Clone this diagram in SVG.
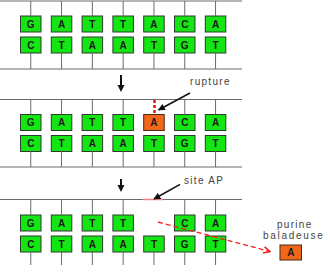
<svg xmlns="http://www.w3.org/2000/svg" width="330" height="272" viewBox="0 0 330 272">
<style>
.b{fill:#14e614;stroke:#2d3b2d;stroke-width:1}
.o{fill:#f0661a;stroke:#4a2a10;stroke-width:1}
.t{font-family:"Liberation Sans",Arial,sans-serif;font-weight:bold;font-size:10px;fill:#1a1a1a;text-anchor:middle}
.l{font-family:"Liberation Sans",Arial,sans-serif;font-size:10px;fill:#444;letter-spacing:1.3px}
.s{stroke:#6b6b6b;stroke-width:1;fill:none}
.k{stroke:#111;stroke-width:1.5;fill:none}
</style>
<defs>
<marker id="ah" viewBox="0 0 10 10" refX="9" refY="5" orient="auto" markerUnits="userSpaceOnUse" markerWidth="8" markerHeight="7"><path d="M0,0 L10,5 L0,10 z" fill="#111"/></marker>
<marker id="rh" viewBox="0 0 10 10" refX="9" refY="5" orient="auto" markerUnits="userSpaceOnUse" markerWidth="9" markerHeight="8"><path d="M1,1 L9,5 L1,9" fill="none" stroke="#ee2020" stroke-width="2"/></marker>
</defs>
<g id="p1">
<g id="p1t1"><rect class="b" x="20.5" y="16" width="20.5" height="16"/><text class="t" x="30.75" y="27.5">G</text></g>
<g id="p1t2"><rect class="b" x="51.3" y="16" width="20.5" height="16"/><text class="t" x="61.55" y="27.5">A</text></g>
<g id="p1t3"><rect class="b" x="82.1" y="16" width="20.5" height="16"/><text class="t" x="92.35" y="27.5">T</text></g>
<g id="p1t4"><rect class="b" x="112.9" y="16" width="20.5" height="16"/><text class="t" x="123.15" y="27.5">T</text></g>
<g id="p1t5"><rect class="b" x="143.7" y="16" width="20.5" height="16"/><text class="t" x="153.95" y="27.5">A</text></g>
<g id="p1t6"><rect class="b" x="174.5" y="16" width="20.5" height="16"/><text class="t" x="184.75" y="27.5">C</text></g>
<g id="p1t7"><rect class="b" x="205.3" y="16" width="20.5" height="16"/><text class="t" x="215.55" y="27.5">A</text></g>
<g id="p1b1"><rect class="b" x="20.5" y="37" width="20.5" height="16"/><text class="t" x="30.75" y="48.5">C</text></g>
<g id="p1b2"><rect class="b" x="51.3" y="37" width="20.5" height="16"/><text class="t" x="61.55" y="48.5">T</text></g>
<g id="p1b3"><rect class="b" x="82.1" y="37" width="20.5" height="16"/><text class="t" x="92.35" y="48.5">A</text></g>
<g id="p1b4"><rect class="b" x="112.9" y="37" width="20.5" height="16"/><text class="t" x="123.15" y="48.5">A</text></g>
<g id="p1b5"><rect class="b" x="143.7" y="37" width="20.5" height="16"/><text class="t" x="153.95" y="48.5">T</text></g>
<g id="p1b6"><rect class="b" x="174.5" y="37" width="20.5" height="16"/><text class="t" x="184.75" y="48.5">G</text></g>
<g id="p1b7"><rect class="b" x="205.3" y="37" width="20.5" height="16"/><text class="t" x="215.55" y="48.5">T</text></g>
</g>
<g id="p2">
<g id="p2t1"><rect class="b" x="20.5" y="114.5" width="20.5" height="16"/><text class="t" x="30.75" y="126">G</text></g>
<g id="p2t2"><rect class="b" x="51.3" y="114.5" width="20.5" height="16"/><text class="t" x="61.55" y="126">A</text></g>
<g id="p2t3"><rect class="b" x="82.1" y="114.5" width="20.5" height="16"/><text class="t" x="92.35" y="126">T</text></g>
<g id="p2t4"><rect class="b" x="112.9" y="114.5" width="20.5" height="16"/><text class="t" x="123.15" y="126">T</text></g>
<g id="p2t5"><rect class="o" x="143.7" y="114.5" width="20.5" height="16"/><text class="t" x="153.95" y="126">A</text></g>
<g id="p2t6"><rect class="b" x="174.5" y="114.5" width="20.5" height="16"/><text class="t" x="184.75" y="126">C</text></g>
<g id="p2t7"><rect class="b" x="205.3" y="114.5" width="20.5" height="16"/><text class="t" x="215.55" y="126">A</text></g>
<g id="p2b1"><rect class="b" x="20.5" y="135.5" width="20.5" height="16"/><text class="t" x="30.75" y="147">C</text></g>
<g id="p2b2"><rect class="b" x="51.3" y="135.5" width="20.5" height="16"/><text class="t" x="61.55" y="147">T</text></g>
<g id="p2b3"><rect class="b" x="82.1" y="135.5" width="20.5" height="16"/><text class="t" x="92.35" y="147">A</text></g>
<g id="p2b4"><rect class="b" x="112.9" y="135.5" width="20.5" height="16"/><text class="t" x="123.15" y="147">A</text></g>
<g id="p2b5"><rect class="b" x="143.7" y="135.5" width="20.5" height="16"/><text class="t" x="153.95" y="147">T</text></g>
<g id="p2b6"><rect class="b" x="174.5" y="135.5" width="20.5" height="16"/><text class="t" x="184.75" y="147">G</text></g>
<g id="p2b7"><rect class="b" x="205.3" y="135.5" width="20.5" height="16"/><text class="t" x="215.55" y="147">T</text></g>
</g>
<g id="p3">
<g id="p3t1"><rect class="b" x="20.5" y="215" width="20.5" height="16"/><text class="t" x="30.75" y="226.5">G</text></g>
<g id="p3t2"><rect class="b" x="51.3" y="215" width="20.5" height="16"/><text class="t" x="61.55" y="226.5">A</text></g>
<g id="p3t3"><rect class="b" x="82.1" y="215" width="20.5" height="16"/><text class="t" x="92.35" y="226.5">T</text></g>
<g id="p3t4"><rect class="b" x="112.9" y="215" width="20.5" height="16"/><text class="t" x="123.15" y="226.5">T</text></g>
<g id="p3t6"><rect class="b" x="174.5" y="215" width="20.5" height="16"/><text class="t" x="184.75" y="226.5">C</text></g>
<g id="p3t7"><rect class="b" x="205.3" y="215" width="20.5" height="16"/><text class="t" x="215.55" y="226.5">A</text></g>
<g id="p3b1"><rect class="b" x="20.5" y="236" width="20.5" height="16"/><text class="t" x="30.75" y="247.5">C</text></g>
<g id="p3b2"><rect class="b" x="51.3" y="236" width="20.5" height="16"/><text class="t" x="61.55" y="247.5">T</text></g>
<g id="p3b3"><rect class="b" x="82.1" y="236" width="20.5" height="16"/><text class="t" x="92.35" y="247.5">A</text></g>
<g id="p3b4"><rect class="b" x="112.9" y="236" width="20.5" height="16"/><text class="t" x="123.15" y="247.5">A</text></g>
<g id="p3b5"><rect class="b" x="143.7" y="236" width="20.5" height="16"/><text class="t" x="153.95" y="247.5">T</text></g>
<g id="p3b6"><rect class="b" x="174.5" y="236" width="20.5" height="16"/><text class="t" x="184.75" y="247.5">G</text></g>
<g id="p3b7"><rect class="b" x="205.3" y="236" width="20.5" height="16"/><text class="t" x="215.55" y="247.5">T</text></g>
</g>
<g id="purine"><rect class="o" x="280" y="245" width="21.5" height="15"/><text class="t" x="290.75" y="256">A</text></g>
<g id="connectors">
<path class="s" d="M0,1 H242 M0,69 H242 M30.75,1 V16 M61.55,1 V16 M92.35,1 V16 M123.15,1 V16 M153.95,1 V16 M184.75,1 V16 M215.55,1 V16 M30.75,53 V69 M61.55,53 V69 M92.35,53 V69 M123.15,53 V69 M153.95,53 V69 M184.75,53 V69 M215.55,53 V69"/>
<path class="s" d="M0,99.5 H242 M0,167 H242 M30.75,99.5 V114.5 M61.55,99.5 V114.5 M92.35,99.5 V114.5 M123.15,99.5 V114.5 M184.75,99.5 V114.5 M215.55,99.5 V114.5 M30.75,151.5 V167 M61.55,151.5 V167 M92.35,151.5 V167 M123.15,151.5 V167 M153.95,151.5 V167 M184.75,151.5 V167 M215.55,151.5 V167"/>
<path class="s" d="M0,199.5 H242 M30.75,199.5 V215 M61.55,199.5 V215 M92.35,199.5 V215 M123.15,199.5 V215 M184.75,199.5 V215 M215.55,199.5 V215 M30.75,252 V265 M61.55,252 V265 M92.35,252 V265 M123.15,252 V265 M153.95,252 V265 M184.75,252 V265 M215.55,252 V265"/>
<path d="M143,199.5 H163" stroke="#f08080" stroke-width="1.5"/>
<path d="M121,75 V86" stroke="#111" stroke-width="2"/>
<path d="M117.5,85 L124.5,85 L121,92 z" fill="#111"/>
<path d="M121,179 V186" stroke="#111" stroke-width="2"/>
<path d="M117.5,185 L124.5,185 L121,192 z" fill="#111"/>
<path class="k" d="M190,93 L158.5,110" marker-end="url(#ah)"/>
<path class="k" d="M180,184.3 L154,199" marker-end="url(#ah)"/>
<path d="M154.5,100 V114.5" stroke="#e81010" stroke-width="2.5" stroke-dasharray="3,2"/>
<path d="M158,222 L270,251.5" stroke="#ee2020" stroke-width="1.3" stroke-dasharray="5,3" fill="none" marker-end="url(#rh)"/>
</g>
<g id="labels">
<text class="l" x="190" y="84.5">rupture</text>
<text class="l" x="184" y="184">site AP</text>
<text class="l" x="277" y="227.5">purine</text>
<text class="l" x="263" y="239" style="letter-spacing:1.7px">baladeuse</text>
</g>
</svg>
